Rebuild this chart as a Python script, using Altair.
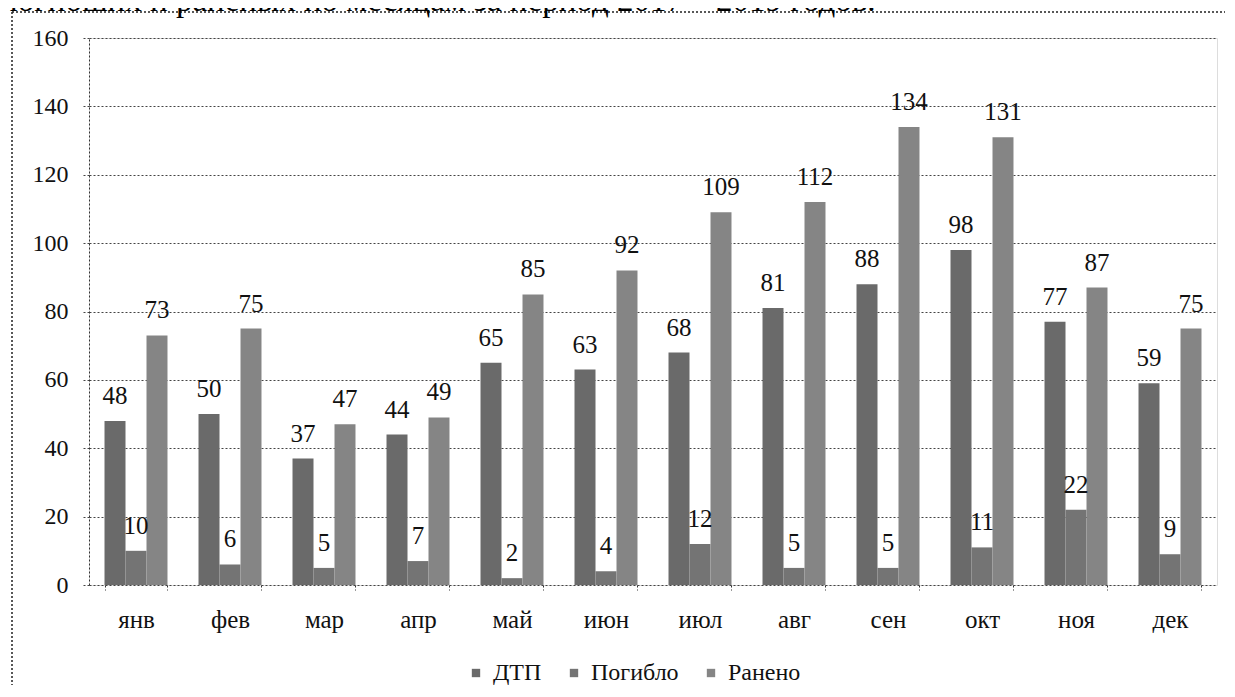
import altair as alt
import pandas as pd

months = ["янв", "фев", "мар", "апр", "май", "июн", "июл", "авг", "сен", "окт", "ноя", "дек"]
series = ["ДТП", "Погибло", "Ранено"]
dtp = [48, 50, 37, 44, 65, 63, 68, 81, 88, 98, 77, 59]
killed = [10, 6, 5, 7, 2, 4, 12, 5, 5, 11, 22, 9]
injured = [73, 75, 47, 49, 85, 92, 109, 112, 134, 131, 87, 75]
y_ticks = [0, 20, 40, 60, 80, 100, 120, 140, 160]
series_colors = ["#6a6a6a", "#747474", "#858585"]
caption = "погибших и раненых по месяцам за период 2017 – 2019 годов."

rows = []
for i, m in enumerate(months):
    for s, vals in zip(series, [dtp, killed, injured]):
        rows.append({"month": m, "series": s, "value": vals[i]})
df = pd.DataFrame(rows)

FONT = "Liberation Serif"
W, H = 1128, 547

x_enc = alt.X(
    "month:N", sort=months,
    scale=alt.Scale(paddingInner=0.33, paddingOuter=0.165),
    axis=alt.Axis(title=None, labelAngle=0, labelFont=FONT, labelFontSize=25,
                  labelColor="#111", labelPadding=17, tickBand="extent",
                  tickSize=5, tickDash=[2, 2], tickColor="#333", domain=False,
                  grid=False),
)
xoff = alt.XOffset("series:N", sort=series,
                   scale=alt.Scale(paddingInner=0, paddingOuter=0))
y_enc = alt.Y(
    "value:Q",
    scale=alt.Scale(domain=[0, 160], nice=False),
    axis=alt.Axis(title=None, values=y_ticks, labelFont=FONT, labelFontSize=24,
                  labelColor="#111", labelPadding=14, tickSize=7,
                  tickDash=[2, 2], tickColor="#444", domain=True,
                  domainDash=[2, 2], domainColor="#333", grid=True,
                  gridDash=[2, 2], gridColor="#444", gridWidth=1),
)

bars = alt.Chart(df).mark_bar().encode(
    x=x_enc,
    xOffset=xoff,
    y=y_enc,
    color=alt.Color(
        "series:N", sort=series,
        scale=alt.Scale(domain=series, range=series_colors),
        legend=alt.Legend(title=None, orient="none", direction="horizontal",
                          legendX=375, legendY=623, symbolType="square",
                          symbolSize=70, symbolStrokeWidth=0,
                          labelFont=FONT, labelFontSize=24, labelColor="#111",
                          labelOffset=5, columnPadding=20, padding=0,
                          labelLimit=300),
    ),
)

labels = alt.Chart(df).mark_text(
    dy=-17, baseline="alphabetic", align="center", font=FONT, fontSize=25,
    color="#111"
).encode(
    x=alt.X("month:N", sort=months),
    xOffset=xoff,
    y=alt.Y("value:Q"),
    text="value:Q",
)

border_df = pd.DataFrame({"k": [0]})
border_v = alt.Chart(border_df).mark_rule(
    strokeDash=[2, 2], color="#222", strokeWidth=1.5
).encode(x=alt.value(-77), y=alt.value(-26), y2=alt.value(H + 200))
border_h = alt.Chart(border_df).mark_rule(
    strokeDash=[2, 2], color="#222", strokeWidth=1.5
).encode(x=alt.value(-77), x2=alt.value(W + 100), y=alt.value(-26))

cap = alt.Chart(border_df).mark_text(
    align="left", baseline="alphabetic", font=FONT, fontSize=33, color="#000"
).encode(x=alt.value(-89), y=alt.value(-27), text=alt.value(caption))

chart = alt.layer(bars, labels, border_v, border_h, cap).properties(
    width=W, height=H,
    autosize=alt.AutoSizeParams(type="none"),
    padding={"left": 81, "top": 30, "right": 8, "bottom": 100},
).configure_view(stroke=None).configure(background="white", font=FONT)

chart.save("out.html", embed_options={"renderer": "svg", "actions": False})
